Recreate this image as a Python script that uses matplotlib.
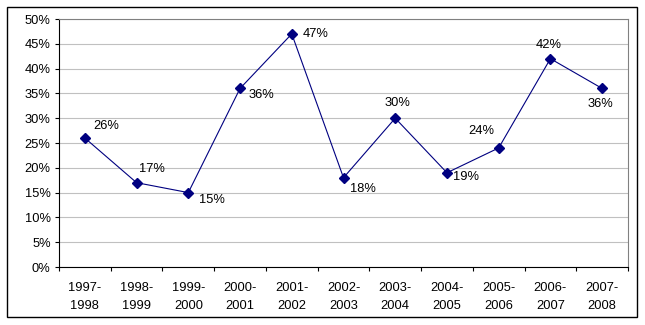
import matplotlib
matplotlib.use("Agg")
import matplotlib.pyplot as plt
from matplotlib.patches import Rectangle
from matplotlib.ticker import FixedLocator, PercentFormatter

years = ["1997-\n1998", "1998-\n1999", "1999-\n2000", "2000-\n2001", "2001-\n2002",
         "2002-\n2003", "2003-\n2004", "2004-\n2005", "2005-\n2006", "2006-\n2007",
         "2007-\n2008"]
pct = [26, 17, 15, 36, 47, 18, 30, 19, 24, 42, 36]
# label offsets in points (dx, dy), Excel style placement
offs = [(6, 8.5), (1.5, 10), (8, -5), (6, -5), (7.5, 0), (5, -8), (1.5, 11),
        (4, -2.7), (-3, 12), (-1, 10), (-1, -11)]
align = ['left', 'left', 'left', 'left', 'left', 'left', 'center', 'left',
         'right', 'center', 'center']

plt.rcParams['font.family'] = ['Liberation Sans', 'DejaVu Sans']

fig = plt.figure(figsize=(6.45, 3.25), dpi=100)
fig.patches.append(Rectangle((7 / 645, 8 / 325), 630 / 645, 310 / 325,
                             transform=fig.transFigure, fill=False,
                             edgecolor='black', linewidth=1))
ax = fig.add_axes([59 / 645, 58 / 325, 569 / 645, 248 / 325])

x = list(range(len(pct)))
ax.plot(x, pct, color='#000080', linewidth=0.8, marker='D', markersize=5.2,
        markerfacecolor='#000080', markeredgecolor='#000080')
for xi, v, (dx, dy), ha in zip(x, pct, offs, align):
    ax.annotate(f"{v}%", (xi, v), xytext=(dx, dy), textcoords='offset points',
                ha=ha, va='center', fontsize=9.3)

ax.set_xlim(-0.5, len(pct) - 0.5)
ax.set_ylim(0, 50)
ax.set_yticks(range(0, 51, 5))
ax.yaxis.set_major_formatter(PercentFormatter(decimals=0))
ax.yaxis.grid(True, color='#c0c0c0', linewidth=0.8)
ax.set_axisbelow(True)

ax.set_xticks(x)
ax.set_xticklabels(years, linespacing=1.6)
ax.xaxis.set_minor_locator(FixedLocator([i - 0.5 for i in range(len(pct) + 1)]))
ax.tick_params(axis='x', which='major', length=0, pad=11, labelsize=9.3)
ax.tick_params(axis='x', which='minor', length=3, width=0.8, direction='out')
ax.tick_params(axis='y', length=3, width=0.8, labelsize=9.3, pad=3)

for s in ['top', 'right']:
    ax.spines[s].set_color('#808080')
    ax.spines[s].set_linewidth(0.8)
for s in ['left', 'bottom']:
    ax.spines[s].set_linewidth(0.8)

fig.savefig("out.png", dpi=100)
